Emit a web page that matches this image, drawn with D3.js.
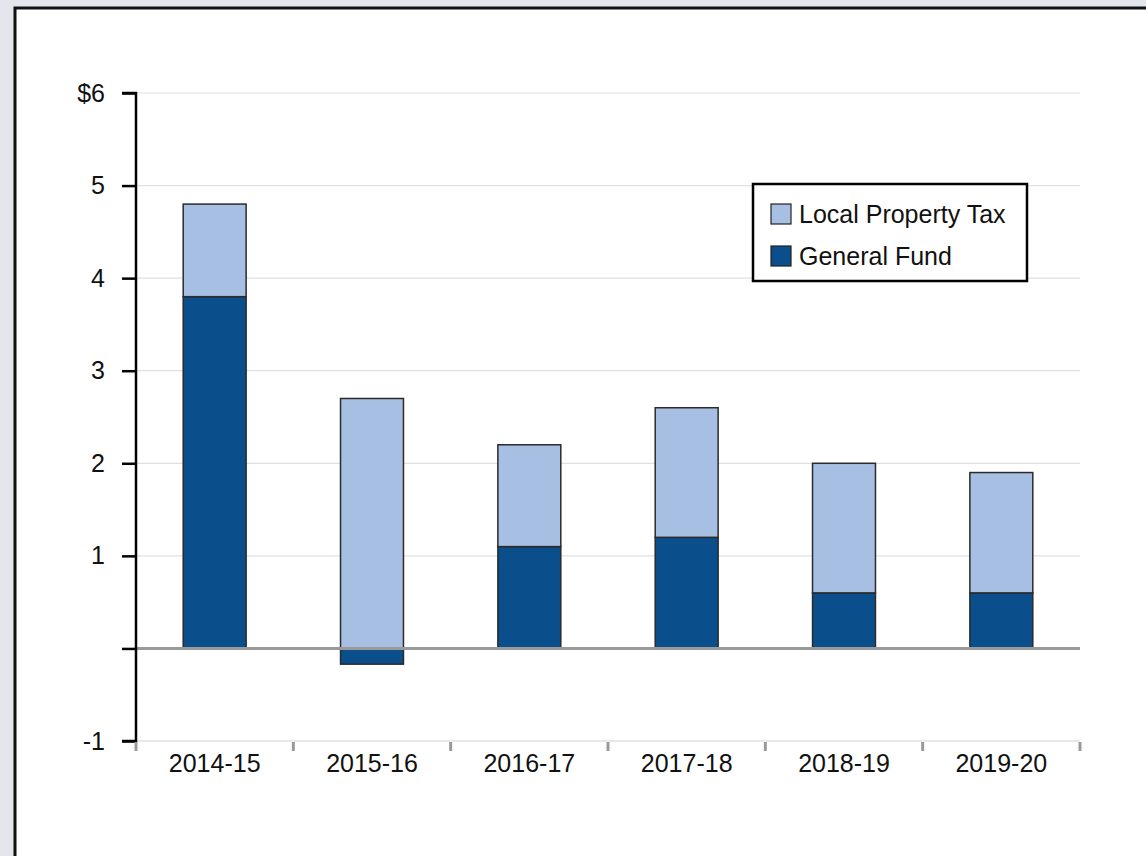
<!DOCTYPE html>
<html><head><meta charset="utf-8">
<script src="https://cdn.jsdelivr.net/npm/d3@7"></script>
<style>
html,body{margin:0;padding:0;background:#e3e6ea;}
svg{display:block;font-family:"Liberation Sans",Arial,Helvetica,sans-serif;}
</style></head>
<body>
<svg id="c" width="1146" height="856"></svg>
<script>
const categories = ["2014-15","2015-16","2016-17","2017-18","2018-19","2019-20"];
const generalFund = [3.8, -0.17, 1.1, 1.2, 0.6, 0.6];
const localPropertyTax = [1.0, 2.7, 1.1, 1.4, 1.4, 1.3];
const seriesNames = ["Local Property Tax","General Fund"];
const seriesColors = ["#a6bfe3","#0b4e8c"];
const yTicks = [-1,0,1,2,3,4,5,6];
const yTickLabels = ["-1","","1","2","3","4","5","$6"];

const svg = d3.select("#c");
svg.append("rect").attr("x",15).attr("y",8).attr("width",1200).attr("height",900)
  .attr("fill","#fff").attr("stroke","#111").attr("stroke-width",3);

const L=136, R=1080, T=93, B=741;
const x = d3.scaleBand().domain(categories).range([L,R]).paddingInner(0.6).paddingOuter(0.3);
const xb = d3.scaleBand().domain(categories).range([L,R]);
const y = d3.scaleLinear().domain([-1,6]).range([B,T]);

// gridlines
svg.append("g").selectAll("line").data(yTicks.filter(v=>v!==0 && v!==-1)).join("line")
  .attr("x1",L).attr("x2",R).attr("y1",d=>y(d)).attr("y2",d=>y(d))
  .attr("stroke","#e0e0e0").attr("stroke-width",1.2);
svg.append("line").attr("x1",L).attr("x2",R).attr("y1",y(-1)).attr("y2",y(-1))
  .attr("stroke","#e0e0e0").attr("stroke-width",1.5);

// stacked bars
const data = categories.map((c,i)=>({cat:c,"General Fund":generalFund[i],"Local Property Tax":localPropertyTax[i]}));
const stack = d3.stack().keys(["General Fund","Local Property Tax"]).offset(d3.stackOffsetDiverging);
const layers = stack(data);
const colorOf = {"Local Property Tax":seriesColors[0],"General Fund":seriesColors[1]};
svg.append("g").selectAll("g").data(layers).join("g")
  .attr("fill",d=>colorOf[d.key])
  .selectAll("rect").data(d=>d).join("rect")
  .attr("x",d=>x(d.data.cat)).attr("width",x.bandwidth())
  .attr("y",d=>y(Math.max(d[0],d[1]))).attr("height",d=>Math.abs(y(d[0])-y(d[1])))
  .attr("stroke","#2b2b2b").attr("stroke-width",1.5);

// zero line
svg.append("line").attr("x1",L).attr("x2",R).attr("y1",y(0)).attr("y2",y(0))
  .attr("stroke","#9a9a9a").attr("stroke-width",3);

// y axis
const yAxis = d3.axisLeft(y).tickValues(yTicks).tickSize(14).tickPadding(17)
  .tickFormat((d,i)=>yTickLabels[i]);
const gy = svg.append("g").attr("transform",`translate(${L},0)`).call(yAxis);
gy.attr("font-size",null).attr("font-family",null);
gy.select(".domain").attr("d",`M-14,${T}H0V${B}H-14`).attr("stroke","#000").attr("stroke-width",2.5).attr("fill","none");
gy.selectAll(".tick line").attr("stroke","#000").attr("stroke-width",2.5);
gy.selectAll(".tick text").attr("font-size",25).attr("fill","#111");

// x axis
const xAxis = d3.axisBottom(x).tickSize(0).tickPadding(13);
const gx = svg.append("g").attr("transform",`translate(0,${B})`).call(xAxis);
gx.attr("font-size",null).attr("font-family",null);
gx.select(".domain").remove();
gx.selectAll(".tick text").attr("font-size",25).attr("fill","#111");
const bounds = categories.map(c=>xb(c)).concat([R]);
svg.append("g").selectAll("line").data(bounds).join("line")
  .attr("x1",d=>d).attr("x2",d=>d).attr("y1",B+1).attr("y2",B+10)
  .attr("stroke","#9a9a9a").attr("stroke-width",3);

// legend
const lg = svg.append("g").attr("transform","translate(753,184)");
lg.append("rect").attr("width",274).attr("height",97).attr("fill","#fff").attr("stroke","#000").attr("stroke-width",2.5);
seriesNames.forEach((n,i)=>{
  const row = lg.append("g").attr("transform",`translate(18,${20+i*42})`);
  row.append("rect").attr("width",20).attr("height",20).attr("fill",seriesColors[i]).attr("stroke","#222").attr("stroke-width",1.2);
  row.append("text").attr("x",28).attr("y",19).attr("font-size",25).attr("fill","#111").text(n);
});
</script>
</body></html>
